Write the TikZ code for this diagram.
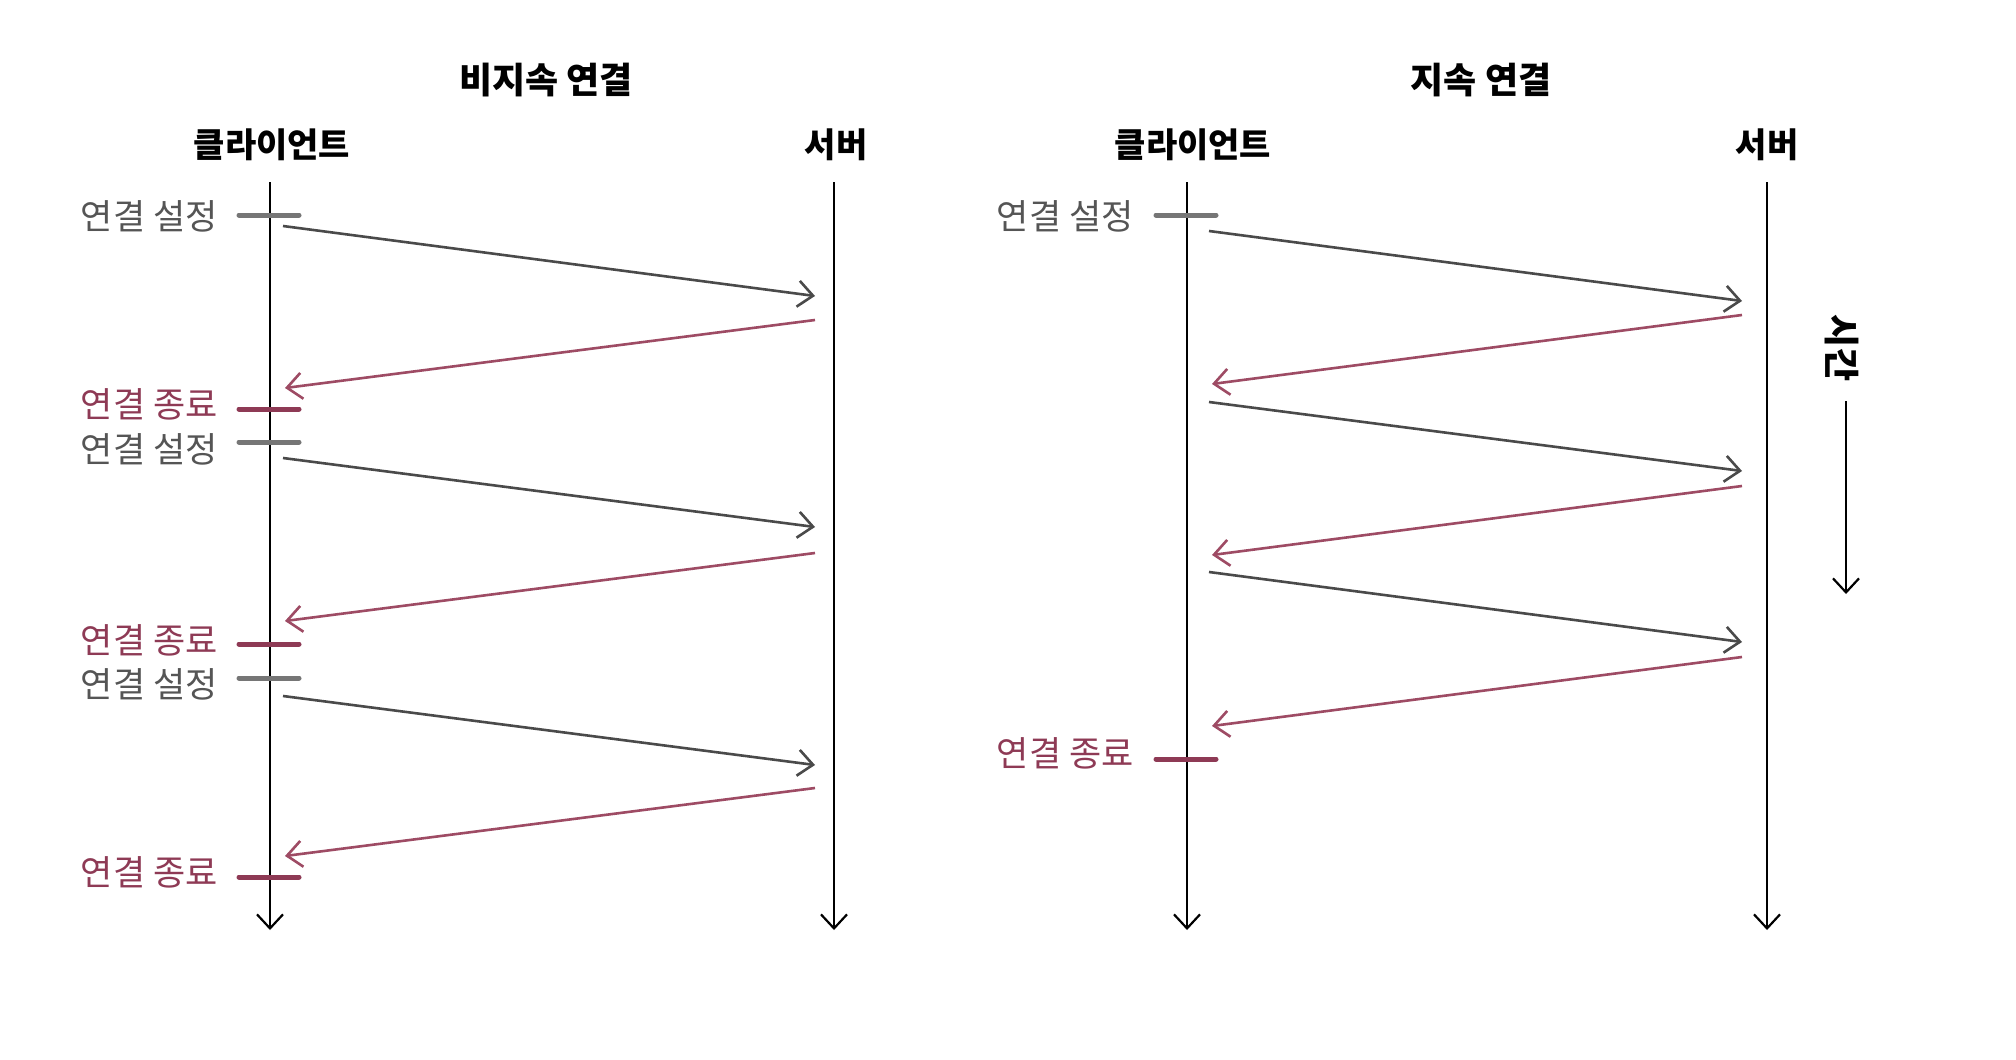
\documentclass[tikz,border=0pt]{standalone}
\usepackage{fontspec}
\setmainfont{Noto Sans CJK KR}
\usetikzlibrary{arrows.meta}
\definecolor{msggray}{HTML}{4A4A4A}
\definecolor{tickgray}{HTML}{767676}
\definecolor{lblgray}{HTML}{555555}
\definecolor{msgred}{HTML}{9E4B64}
\definecolor{tickred}{HTML}{8E3A55}
\begin{document}
\begin{tikzpicture}[x=1pt,y=-1pt,
  lifeline/.style={line width=2.2pt, black, -{Straight Barb[length=14pt,width=26pt,line width=2.2pt]}},
  msg/.style={line width=2.6pt, -{Straight Barb[length=15pt,width=26pt,line width=2.6pt]}},
  msgg/.style={msg, msggray},
  msgr/.style={msg, msgred},
  tickg/.style={line width=5pt, line cap=round, tickgray},
  tickr/.style={line width=5pt, line cap=round, tickred},
  title/.style={font=\fontsize{36}{40}\selectfont\bfseries, text=black},
  head/.style={font=\fontsize{34}{40}\selectfont\bfseries, text=black},
  lblg/.style={font=\fontsize{35}{40}\selectfont, text=lblgray, anchor=east},
  lblr/.style={font=\fontsize{35}{40}\selectfont, text=tickred, anchor=east}]
\useasboundingbox[fill=white] (0,0) rectangle (2016,1060);

% titles
\node[title] (t1) at (546,80) {비지속 연결};
\node[title] (t2) at (1481,80) {지속 연결};
\node[head] (c1) at (272,145) {클라이언트};
\node[head] (s1) at (836,145) {서버};
\node[head] (c2) at (1193,145) {클라이언트};
\node[head] (s2) at (1767,145) {서버};

% lifelines
\coordinate (c1t) at (270,182); \coordinate (c1b) at (270,930);
\coordinate (s1t) at (834,182); \coordinate (s1b) at (834,930);
\coordinate (c2t) at (1187,182); \coordinate (c2b) at (1187,930);
\coordinate (s2t) at (1767,182); \coordinate (s2b) at (1767,930);
\draw[lifeline] (c1t) -- (c1b);
\draw[lifeline] (s1t) -- (s1b);
\draw[lifeline] (c2t) -- (c2b);
\draw[lifeline] (s2t) -- (s2b);

% ----- left: non-persistent
\coordinate (a1) at (239,215); \coordinate (b1) at (299,215);
\coordinate (a2) at (239,409); \coordinate (b2) at (299,409);
\coordinate (a3) at (239,442); \coordinate (b3) at (299,442);
\coordinate (a4) at (239,644); \coordinate (b4) at (299,644);
\coordinate (a5) at (239,678); \coordinate (b5) at (299,678);
\coordinate (a6) at (239,877); \coordinate (b6) at (299,877);
\draw[tickg] (a1) -- (b1);
\draw[tickr] (a2) -- (b2);
\draw[tickg] (a3) -- (b3);
\draw[tickr] (a4) -- (b4);
\draw[tickg] (a5) -- (b5);
\draw[tickr] (a6) -- (b6);
\node[lblg] (l1) at (221,216) {연결 설정};
\node[lblr] (l2) at (221,404) {연결 종료};
\node[lblg] (l3) at (221,449) {연결 설정};
\node[lblr] (l4) at (221,640) {연결 종료};
\node[lblg] (l5) at (221,684) {연결 설정};
\node[lblr] (l6) at (221,872) {연결 종료};

\coordinate (p1) at (283,226); \coordinate (q1) at (815,296);
\coordinate (p2) at (815,320); \coordinate (q2) at (285,388);
\coordinate (p3) at (283,458); \coordinate (q3) at (815,527);
\coordinate (p4) at (815,553); \coordinate (q4) at (285,621);
\coordinate (p5) at (283,696); \coordinate (q5) at (815,765);
\coordinate (p6) at (815,788); \coordinate (q6) at (285,856);
\draw[msgg] (p1) -- (q1);
\draw[msgr] (p2) -- (q2);
\draw[msgg] (p3) -- (q3);
\draw[msgr] (p4) -- (q4);
\draw[msgg] (p5) -- (q5);
\draw[msgr] (p6) -- (q6);

% ----- right: persistent
\coordinate (d1) at (1156,215); \coordinate (e1) at (1216,215);
\coordinate (d2) at (1156,759); \coordinate (e2) at (1216,759);
\draw[tickg] (d1) -- (e1);
\draw[tickr] (d2) -- (e2);
\node[lblg] (m1) at (1137,216) {연결 설정};
\node[lblr] (m2) at (1137,753) {연결 종료};

\coordinate (u1) at (1209,231); \coordinate (v1) at (1742,301);
\coordinate (u2) at (1742,315); \coordinate (v2) at (1212,384);
\coordinate (u3) at (1209,402); \coordinate (v3) at (1742,471);
\coordinate (u4) at (1742,486); \coordinate (v4) at (1212,555);
\coordinate (u5) at (1209,572); \coordinate (v5) at (1742,642);
\coordinate (u6) at (1742,657); \coordinate (v6) at (1212,726);
\draw[msgg] (u1) -- (v1);
\draw[msgr] (u2) -- (v2);
\draw[msgg] (u3) -- (v3);
\draw[msgr] (u4) -- (v4);
\draw[msgg] (u5) -- (v5);
\draw[msgr] (u6) -- (v6);

% time arrow
\node[font=\fontsize{36}{40}\selectfont\bfseries, rotate=-90] (time) at (1842,348) {시간};
\coordinate (ts) at (1846,401); \coordinate (te) at (1846,594);
\draw[lifeline] (ts) -- (te);
\end{tikzpicture}
\end{document}
